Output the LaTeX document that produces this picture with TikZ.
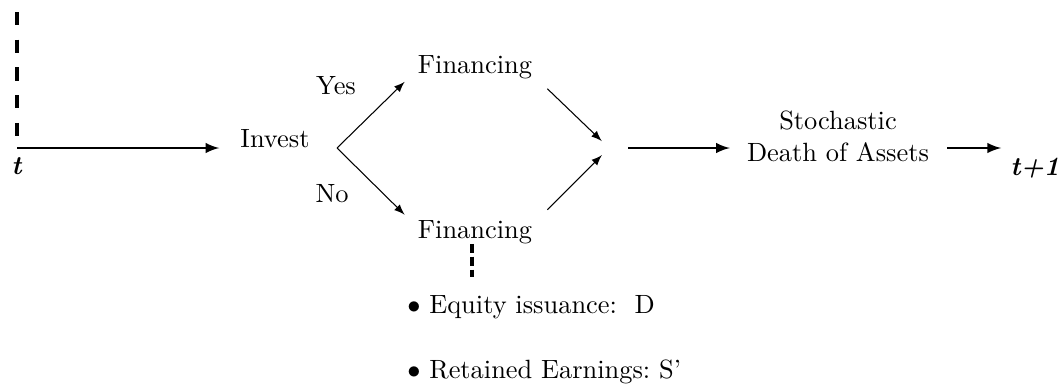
\documentclass[tikz,border=0pt]{standalone}
\usepackage{amsmath}
\usetikzlibrary{arrows}

\tikzset{
	timeline/.style={-latex, thick},
	branch/.style={-latex},
	period/.style={line width=1.3pt, dash pattern=on 5pt off 5.5pt},
	choice/.style={line width=1.3pt, dash pattern=on 3.4pt off 1.5pt},
}

\begin{document}
\begin{tikzpicture}[x=0.3788pt, y=-0.3788pt]

	\useasboundingbox (0,0) rectangle (1061,383);

	\coordinate (S) at (17,12);
	\coordinate (T) at (17,148);
	\coordinate (F) at (337,148);
	\coordinate (J) at (609,148);

	\node[anchor=base] (t) at (17,174) {\textbf{\textit{t}}};
	\node[anchor=base] (inv) at (275,147) {Invest};
	\node[anchor=base] (yes) at (336,94) {Yes};
	\node[anchor=base] (no) at (332,202) {No};
	\node[anchor=base] (finA) at (475,73) {Financing};
	\node[anchor=base] (finB) at (475,238) {Financing};
	\node[align=center] (death) at (838,136.5) {Stochastic\\Death of Assets};
	\node[anchor=base] (tt) at (1035,175) {\textbf{\textit{t+1}}};
	\node[anchor=base west] (eq) at (398,313) {$\bullet$ Equity issuance:\ \ D};
	\node[anchor=base west] (re) at (398,378) {$\bullet$ Retained Earnings:\ S'};

	\draw[period] (S) -- (T);
	\draw[timeline, shorten >=4.5pt] (T) -- (inv.west |- T);

	\draw[branch] (F) -- ([shift={(-4,-6)}]finA.south west);
	\draw[branch] (F) -- ([shift={(-4,4)}]finB.north west);
	\draw[branch, shorten >=3.8pt] ([shift={(6,1)}]finA.south east) -- (J);
	\draw[branch, shorten >=3.8pt] ([shift={(6,-1)}]finB.north east) -- (J);

	\draw[timeline, shorten <=7.2pt, shorten >=3pt] (J) -- (death.west |- J);
	\draw[timeline, shorten <=3.4pt] (death.east |- J) -- (tt.west |- J);

	\draw[choice] ([xshift=-1.1pt, yshift=3.4pt]finB.south) -- ([xshift=-1.1pt, yshift=3.4pt]finB.south |- eq.north);

\end{tikzpicture}
\end{document}
